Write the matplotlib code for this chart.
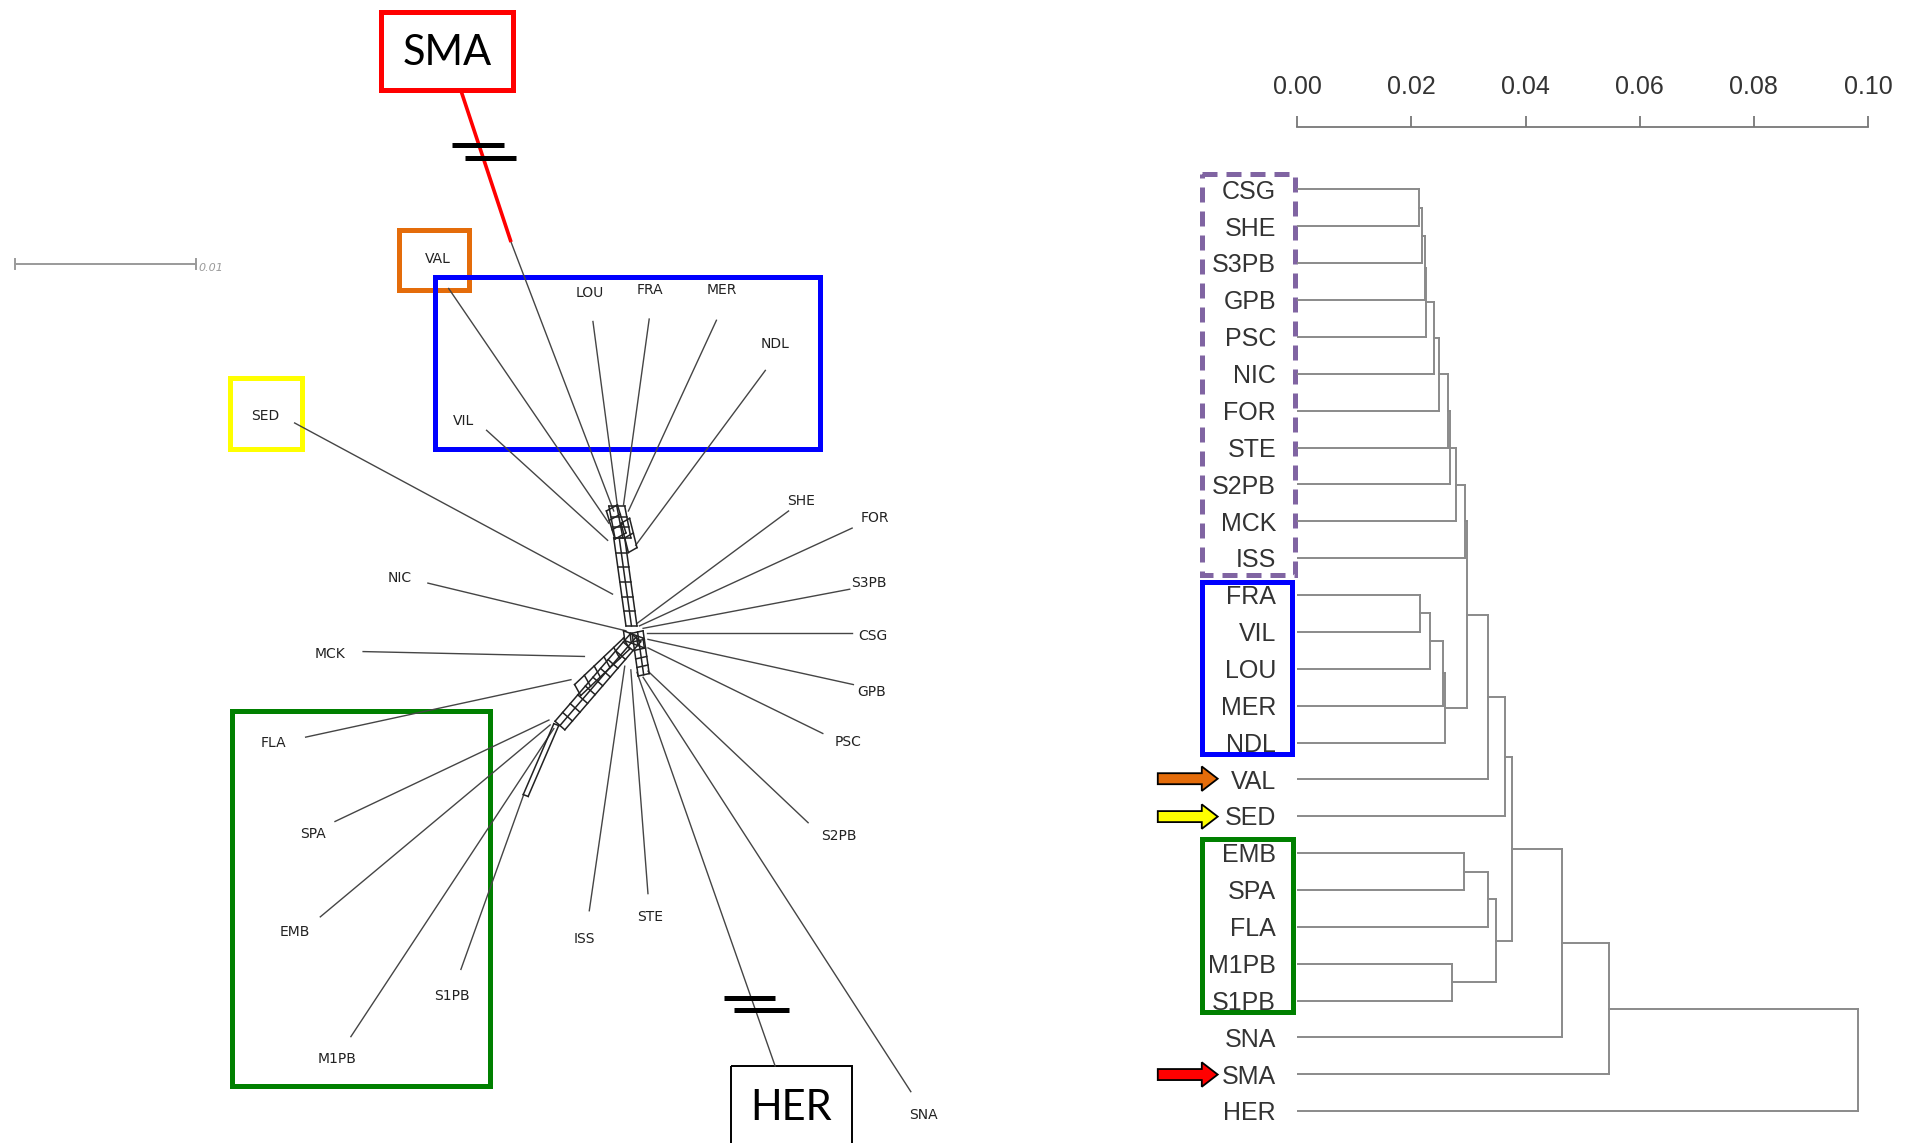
import numpy as np
import matplotlib.pyplot as plt
from matplotlib.patches import Rectangle, FancyArrow

# lienzo en unidades de dibujo (1 unidad = 1917/1568 px)
W, H = 1568, 935

#%% Datos del dendrograma
hojas = ["CSG", "SHE", "S3PB", "GPB", "PSC", "NIC", "FOR", "STE", "S2PB", "MCK", "ISS",
         "FRA", "VIL", "LOU", "MER", "NDL", "VAL", "SED",
         "EMB", "SPA", "FLA", "M1PB", "S1PB", "SNA", "SMA", "HER"]

# uniones (hijo1, hijo2, altura); cada union crea el grupo c1, c2, ...
uniones = [
    ("CSG", "SHE", 0.0214),   # c1
    ("c1", "S3PB", 0.0219),   # c2
    ("c2", "GPB", 0.0224),    # c3
    ("c3", "PSC", 0.0226),    # c4
    ("c4", "NIC", 0.0240),    # c5
    ("c5", "FOR", 0.0249),    # c6
    ("c6", "STE", 0.0265),    # c7
    ("c7", "S2PB", 0.0268),   # c8
    ("c8", "MCK", 0.0279),    # c9
    ("c9", "ISS", 0.0294),    # c10
    ("FRA", "VIL", 0.0215),   # c11
    ("c11", "LOU", 0.0232),   # c12
    ("c12", "MER", 0.0256),   # c13
    ("c13", "NDL", 0.0259),   # c14
    ("c10", "c14", 0.0297),   # c15
    ("c15", "VAL", 0.0334),   # c16
    ("c16", "SED", 0.0364),   # c17
    ("EMB", "SPA", 0.0292),   # c18
    ("c18", "FLA", 0.0334),   # c19
    ("M1PB", "S1PB", 0.0271), # c20
    ("c19", "c20", 0.0349),   # c21
    ("c17", "c21", 0.0376),   # c22
    ("c22", "SNA", 0.0464),   # c23
    ("c23", "SMA", 0.0546),   # c24
    ("c24", "HER", 0.0982),   # c25
]
ticks_dist = [0.00, 0.02, 0.04, 0.06, 0.08, 0.10]

#%% Datos de la red (NeighborNet)
# posicion de la etiqueta, extremo exterior de la rama y punto de union con la red
etiqueta_xy = {
    "VAL": (358, 212), "LOU": (482, 240), "FRA": (532, 237), "MER": (590, 237),
    "NDL": (634, 281), "VIL": (379, 344), "SED": (217, 340), "NIC": (327, 473),
    "MCK": (270, 535), "FLA": (224, 608), "SPA": (256, 682), "EMB": (241, 762),
    "M1PB": (276, 866), "S1PB": (370, 815), "ISS": (478, 768), "STE": (532, 750),
    "SNA": (755, 912), "S2PB": (686, 684), "PSC": (694, 607), "GPB": (713, 566),
    "CSG": (714, 520), "S3PB": (711, 477), "FOR": (716, 424), "SHE": (655, 410),
}
punta_xy = {
    "SMA": (418, 198), "HER": (634, 872),
    "VAL": (367, 236), "LOU": (485, 263), "FRA": (531, 261), "MER": (586, 262),
    "NDL": (626, 303), "VIL": (398, 352), "SED": (241, 346), "NIC": (350, 477),
    "MCK": (297, 533), "FLA": (250, 603), "SPA": (274, 672), "EMB": (262, 750),
    "M1PB": (287, 848), "S1PB": (377, 793), "ISS": (482, 745), "STE": (530, 731),
    "SNA": (745, 893), "S2PB": (661, 673), "PSC": (673, 600), "GPB": (698, 560),
    "CSG": (697, 518), "S3PB": (695, 482), "FOR": (697, 432), "SHE": (645, 418),
}
union_xy = {
    "SMA": (502, 418), "HER": (521, 550),
    "VAL": (498, 428), "LOU": (505, 414), "FRA": (510, 413), "MER": (514, 418),
    "NDL": (520, 446), "VIL": (497, 442), "SED": (501, 486), "NIC": (512, 516),
    "MCK": (478, 537), "FLA": (467, 556), "SPA": (449, 589), "EMB": (450, 593),
    "M1PB": (453, 596), "S1PB": (428, 651), "ISS": (511, 545), "STE": (516, 548),
    "SNA": (526, 554), "S2PB": (530, 549), "PSC": (530, 530), "GPB": (530, 523),
    "CSG": (529, 518), "S3PB": (526, 514), "FOR": (523, 512), "SHE": (521, 510),
}
# escaleras de cajas del centro: inicio, fin, desplazamiento, rieles, peldanos
escaleras = [
    ((502, 440), (512, 512), (9, 0), 3, 7),
    ((498, 414), (503, 440), (13, 0), 3, 4),
    ((505, 413), (512, 436), (-9, 5), 2, 4),
    ((508, 428), (514, 452), (7, -4), 2, 3),
    ((516, 518), (454, 590), (8, 7), 3, 11),
    ((510, 522), (470, 560), (5, 9), 2, 6),
    ((453, 592), (428, 650), (4, 1.5), 2, 2),
    ((517, 518), (522, 553), (9, -2), 3, 6),
    ((510, 516), (526, 522), (1, 8), 2, 4),
]
# rama de SMA (tramo rojo) y marcas de corte
sma_rojo = [(377, 74), (418, 198)]
cortes = [((370, 119), (412, 119)), ((380, 129), (422, 129)),
          ((592, 816), (634, 816)), ((600, 826), (645, 826))]

#%% Figura
fig = plt.figure(figsize=(19.17, 11.43), dpi=100)
ax = fig.add_axes([0, 0, 1, 1])
ax.set_xlim(0, W)
ax.set_ylim(H, 0)
ax.axis("off")

fuente_red = ["Liberation Sans Narrow", "DejaVu Sans"]
gris_red = "#454545"

# ramas terminales
for nombre, (px, py) in punta_xy.items():
    ux, uy = union_xy[nombre]
    ax.plot([px, ux], [py, uy], color=gris_red, lw=1.0)

# cajas del centro
for (x0, y0), (x1, y1), (dx, dy), rieles, peldanos in escaleras:
    for k in np.linspace(0, 1, rieles):
        ax.plot([x0 + k * dx, x1 + k * dx], [y0 + k * dy, y1 + k * dy], color="#222222", lw=1.1)
    for t in np.linspace(0, 1, peldanos):
        bx, by = x0 + t * (x1 - x0), y0 + t * (y1 - y0)
        ax.plot([bx, bx + dx], [by, by + dy], color="#222222", lw=1.1)

for nombre, (lx, ly) in etiqueta_xy.items():
    ax.text(lx, ly, nombre, fontsize=10, family=fuente_red, color="#222222",
            ha="center", va="center")

ax.plot(*zip(*sma_rojo), color="red", lw=2.6, solid_capstyle="butt")
for (a, b) in cortes:
    ax.plot([a[0], b[0]], [a[1], b[1]], color="black", lw=3.6, solid_capstyle="butt")

# barra de escala
ax.plot([12, 160], [216, 216], color="#9a9a9a", lw=1.4)
ax.plot([12, 12], [212, 220], color="#9a9a9a", lw=1.4)
ax.plot([160, 160], [212, 220], color="#9a9a9a", lw=1.4)
ax.text(162, 219, "0.01", fontsize=8, style="italic", color="#9a9a9a", va="center")

# recuadros de la red
def recuadro(x0, y0, x1, y1, color, lw=3.6, ls="-"):
    ax.add_patch(Rectangle((x0, y0), x1 - x0, y1 - y0, fill=False, ec=color,
                           lw=lw, ls=ls, clip_on=False))

recuadro(312, 10, 420, 74, "#ff0000")
ax.text(366, 43, "SMA", fontsize=30, family=["Lato", "DejaVu Sans"], ha="center", va="center")
recuadro(598, 872, 697, 945, "black", lw=1.4)
ax.text(647, 906, "HER", fontsize=30, family=["Lato", "DejaVu Sans"], ha="center", va="center")
recuadro(326, 188, 384, 237, "#e46c0a")
recuadro(356, 227, 671, 367, "#0000ff")
recuadro(188, 309, 247, 367, "#ffff00")
recuadro(190, 582, 401, 888, "#008000")

# recuadros y flechas del dendrograma
recuadro(983, 142, 1059, 470, "#8064a2", ls=(0, (3, 1.8)))
recuadro(983, 476, 1057, 617, "#0000ff")
recuadro(983, 686, 1058, 828, "#008000")
for y, color in [(637, "#e46c0a"), (668, "#ffff00"), (879, "#ff0000")]:
    ax.add_patch(FancyArrow(947, y, 49, 0, width=9, head_width=20, head_length=13,
                            length_includes_head=True, fc=color, ec="black", lw=1.3))

#%% Dendrograma
ad = fig.add_axes([1061 / W, 0, 467 / W, 1 - 104 / H])
ad.set_facecolor("none")
paso = 30.16
ad.set_xlim(0, 0.10)
ad.set_ylim((935 - 155) / paso, (104 - 155) / paso)

pos = {h: i for i, h in enumerate(hojas)}
alt = {h: 0.0 for h in hojas}
gris_d = "#8a8a8a"
for k, (a, b, h) in enumerate(uniones, start=1):
    for c in (a, b):
        ad.plot([alt[c], h], [pos[c], pos[c]], color=gris_d, lw=1.4)
    ad.plot([h, h], [pos[a], pos[b]], color=gris_d, lw=1.4)
    pos["c%d" % k] = (pos[a] + pos[b]) / 2
    alt["c%d" % k] = h

for h in hojas:
    ad.text(-0.0037, pos[h] + 0.06, h, fontsize=18, family="Liberation Sans", color="#333333",
            ha="right", va="center")

for s in ["left", "right", "bottom"]:
    ad.spines[s].set_visible(False)
ad.spines["top"].set_color("#777777")
ad.spines["top"].set_linewidth(1.3)
ad.set_yticks([])
ad.xaxis.tick_top()
ad.set_xticks(ticks_dist)
ad.set_xticklabels(["%.2f" % t for t in ticks_dist], fontsize=18,
                   family="Liberation Sans", color="#333333")
ad.tick_params(axis="x", direction="out", length=8, width=1.3, color="#777777", pad=12)

fig.savefig("out.png", dpi=100)
